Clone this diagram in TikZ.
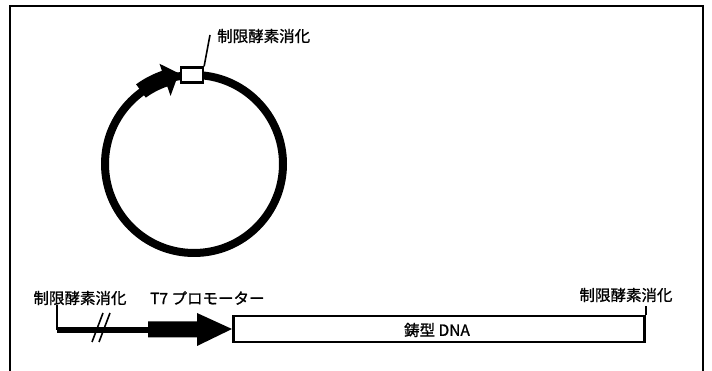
\documentclass[tikz,border=0pt]{standalone}
\usepackage{fontspec}
\newfontfamily\jpfont[BoldFont={Noto Sans CJK JP},BoldFeatures={FakeBold=1}]{Noto Sans CJK JP}
\begin{document}
\begin{tikzpicture}[x=1pt,y=1pt,
  lbl/.style={font=\jpfont\bfseries\fontsize{15.5}{17}\selectfont, inner sep=0pt},
  thin/.style={line width=2.2pt},
  frame/.style={line width=2.5pt}]
\useasboundingbox (0,0) rectangle (712,371);
% frame (open at bottom)
\draw[frame] (10,0) -- (10,365) -- (703,365) -- (703,0);
% plasmid
\coordinate (c) at (194,207);
\draw[line width=8pt] (c) circle[radius=89];
\begin{scope}[shift={(c)}]
\fill (126:82) arc[start angle=126,end angle=109,radius=82] -- (109:72) -- (99.5:92) -- (109:106) -- (109:98.5) arc[start angle=109,end angle=126,radius=98.5] -- cycle;
\end{scope}
\node[draw, fill=white, line width=2.2pt, minimum width=22pt, minimum height=15pt, inner sep=0pt] (site) at (192,296) {};
\coordinate (lead) at (210,336);
\draw[line width=1.6pt] (site.north east) -- (lead);
\node[lbl, anchor=west] (topl) at (217,335) {制限酵素消化};
% linear template
\node[lbl] (leftl) at (80,73) {制限酵素消化};
\node[lbl, anchor=west] (t7) at (150,73) {T7 プロモーター};
\node[lbl] (rightl) at (626,76) {制限酵素消化};
\node[draw, line width=2.8pt, minimum width=411pt, minimum height=26pt, inner sep=0pt, anchor=west] (dna) at (232,42) {};
\node[lbl] (dnal) at (437,41) {鋳型 DNA};
\coordinate (lstart) at (57,66);
\coordinate (lcorner) at (57,41);
\draw[thin] (lstart) -- (lcorner);
\draw[line width=6pt] (lcorner) -- (149,41);
\draw[line width=1.6pt] (92,29) -- (103,58);
\draw[line width=1.6pt] (99,29) -- (110,58);
% promoter arrow
\fill (148,49.5) -- (197,49.5) -- (197,58) -- (dna.west) -- (197,25) -- (197,33.5) -- (148,33.5) -- cycle;
% right tick
\draw[thin] (dna.north east) -- ++(0,9);
\end{tikzpicture}
\end{document}
